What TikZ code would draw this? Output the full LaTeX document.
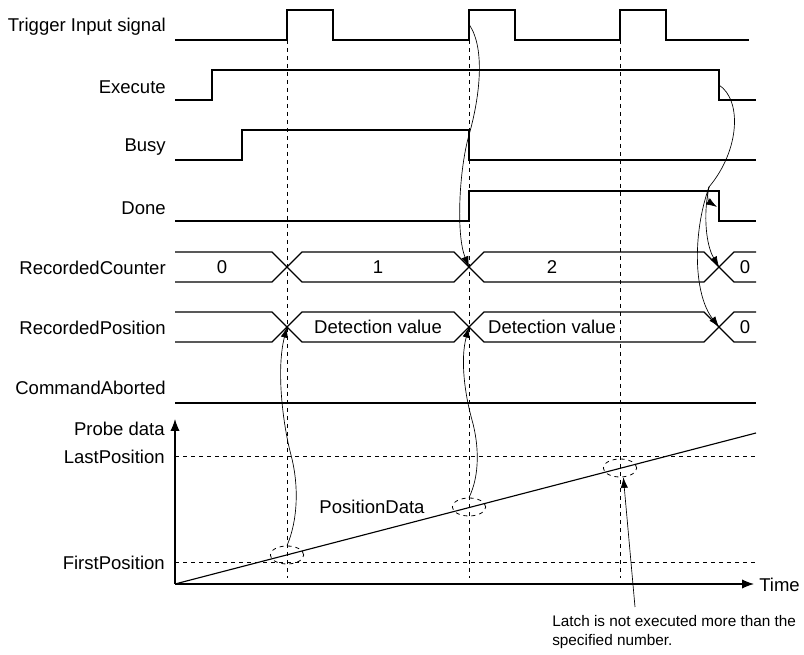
\documentclass[tikz,border=0pt]{standalone}
\usepackage{fontspec}
\setmainfont{Liberation Sans}
\usetikzlibrary{arrows.meta,shapes.geometric}

\begin{document}
\begin{tikzpicture}[x=0.75pt,y=-0.75pt,font=\fontsize{13.9}{13.5}\selectfont,
  sig/.style={line width=0.85pt},
  guide/.style={dashed,line width=0.5pt},
  cause/.style={line width=0.5pt,-{Latex[length=8pt,width=5.5pt]}},
  lbl/.style={anchor=east,inner sep=0pt},
  latch/.style={draw,dashed,line width=0.6pt,ellipse,minimum width=25pt,minimum height=13.5pt,inner sep=0pt}]
\useasboundingbox (0,0) rectangle (804,655);
\node[lbl] (trg) at (166,27) {Trigger Input signal};
\node[lbl] (exe) at (166,87) {Execute};
\node[lbl] (bsy) at (166,147) {Busy};
\node[lbl] (dne) at (166,208) {Done};
\node[lbl] (cnt) at (166,268) {RecordedCounter};
\node[lbl] (pos) at (166,328) {RecordedPosition};
\node[lbl] (abt) at (166,388) {CommandAborted};
\foreach \t in {287,469,620}
  \draw[guide] (\t,40) -- (\t,578);
\draw[sig] (175,40) -- (287,40) -- (287,10) -- (333,10) -- (333,40) -- (469,40) -- (469,10) -- (515,10) -- (515,40)
  -- (620,40) -- (620,10) -- (666,10) -- (666,40) -- (749,40);
\draw[sig] (175,100) -- (212,100) -- (212,70) -- (719,70) -- (719,100) -- (756,100);
\draw[sig] (175,160) -- (242,160) -- (242,130) -- (469,130) -- (469,160) -- (756,160);
\draw[sig] (175,221) -- (469,221) -- (469,191) -- (719,191) -- (719,221) -- (756,221);
\foreach \y in {252,312}{
  \draw[sig] (175,\y) -- (272,\y) -- (302,\y+30) -- (454,\y+30) -- (484,\y) -- (704,\y) -- (734,\y+30) -- (756,\y+30);
  \draw[sig] (175,\y+30) -- (272,\y+30) -- (302,\y) -- (454,\y) -- (484,\y+30) -- (704,\y+30) -- (734,\y) -- (756,\y);
}
\node (c0) at (222,267) {0};
\node (c1) at (378,267) {1};
\node (c2) at (552,267) {2};
\node (c3) at (745,267) {0};
\node (p1) at (378,327) {Detection value};
\node (p2) at (552,327) {Detection value};
\node (p3) at (745,327) {0};
\draw[sig] (175,403) -- (756,403);
\draw[sig,-{Latex[length=9pt,width=7pt]}] (175,584) -- (175,419);
\draw[sig,-{Latex[length=9pt,width=7pt]}] (175,584) -- (754,584);
\node[lbl] (yax) at (165,429) {Probe data};
\node[lbl] (lst) at (165,457) {LastPosition};
\node[lbl] (fst) at (165,563) {FirstPosition};
\node[anchor=west,inner sep=0pt] (tim) at (759,585) {Time};
\draw[guide] (175,456) -- (756,456);
\draw[guide] (175,562) -- (756,562);
\draw[sig] (175,584) -- (756,433);
\node (pdat) at (372,507) {PositionData};
\node[latch] (l1) at (287,555) {};
\node[latch] (l2) at (469,507) {};
\node[latch] (l3) at (620,468) {};
\coordinate (trg2) at (469.5,25);
\coordinate (exeoff) at (719,85);
\coordinate (br) at (709,187);
\coordinate (doneoff) at (717,207);
\coordinate (cx1) at (469,267);
\coordinate (cx2) at (719,267);
\coordinate (px0) at (287,327);
\coordinate (px1) at (469,327);
\coordinate (px2) at (719,327);
\draw[cause] (trg2) .. controls (486,50) and (479,100) .. (469,135) .. controls (459,170) and (456,235) .. (cx1);
\draw[line width=0.5pt] (exeoff) .. controls (742,100) and (740,150) .. (br);
\draw[cause] (br) .. controls (706,195) and (709,202) .. (doneoff);
\draw[cause] (br) .. controls (703,215) and (706,245) .. (cx2);
\draw[cause] (br) .. controls (692,235) and (694,295) .. (px2);
\draw[cause] (l1.north) .. controls (298,520) and (299,485) .. (291,455) .. controls (283,425) and (276,370) .. (px0);
\draw[cause] (l2.north) .. controls (480,475) and (479,445) .. (472,420) .. controls (465,395) and (460,360) .. (px1);
\node[anchor=north west,align=left,inner sep=0pt,font=\fontsize{11.5}{14.3}\selectfont] (note) at (552,615)
  {Latch is not executed more than the\\specified number.};
\coordinate (nt) at (635,607);
\draw[cause] (nt) -- (l3.-70);
\end{tikzpicture}
\end{document}
